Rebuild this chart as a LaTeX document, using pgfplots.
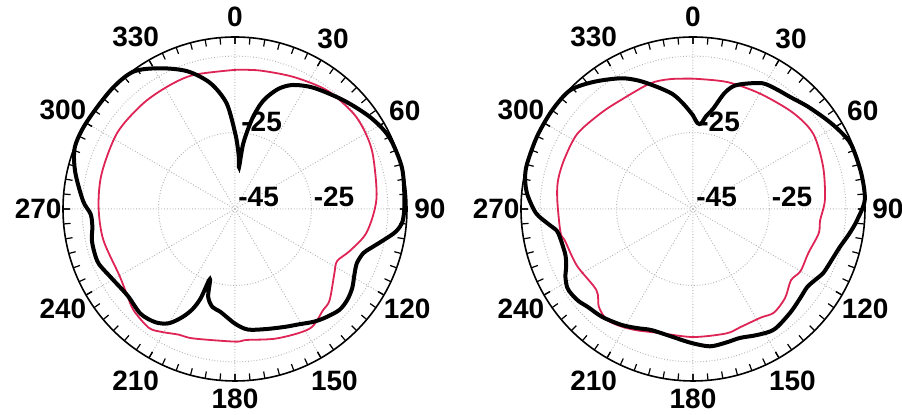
\documentclass[border=0pt]{standalone}
\usepackage{pgfplots}
\pgfplotsset{compat=1.18}
\usepackage{pgfplotstable}
\usepgfplotslibrary{polar}
\usepackage{fontspec}
\setmainfont{Liberation Sans}
\definecolor{pr}{RGB}{222,35,85}

% angle: compass degrees (0 at top, clockwise); db: level in dB
\pgfplotstableread{
ang db
0 -25
1.4 -27
4 -31
5.5 -34
7.2 -27.7
10.6 -21.3
13.5 -17
16 -14.5
20 -11.5
25 -9.2
33 -7.2
45 -4.8
56 -2.2
65 -0.5
76 0
87 -0.6
94 -1
98 -2.5
102 -5.4
106 -8
109 -9.5
114 -10.1
119 -9.3
124 -8
129 -7.2
134 -7
140 -8
145 -9
151 -10.5
157 -11.5
166 -12.6
174 -13.3
180 -15
188 -17.8
193 -18.7
197 -21
199.7 -25.5
201 -20
203 -16.5
206 -13.5
210 -10.5
215 -8.8
222 -8.1
231 -8.9
240 -8.1
248 -6.6
253 -6.5
258 -6.7
263 -7.4
268 -7.2
273 -5.2
283 -2.1
291 -0.1
300 0
314 0
323.5 -0.3
332 -3.3
341 -6.9
349 -11.5
355.5 -17.3
360 -25
}\Lblack

\pgfplotstableread{
ang db
0 -8.6
10 -8.2
24 -7.2
38 -5.7
51 -5.2
60 -5.5
69 -6.3
86 -7.9
100 -10
110 -13
117 -15
123 -14
134 -10.6
139 -9.9
148 -8.1
162 -9.4
175 -10.6
180 -10.3
198 -9.4
204 -9
211 -7.5
216 -6.6
225 -7.5
232 -9
240 -10.1
257 -9.6
271 -9.3
285 -8.9
303 -8.3
319 -8.4
332 -8.4
343 -8.3
360 -8.6
}\Lred

\pgfplotstableread{
ang db
0 -20.5
3 -22.5
5.5 -22.5
8 -20.5
11.4 -18.2
15 -13.8
18 -11.3
22 -9.7
29 -7.4
35 -6.8
41 -6.2
48 -4.8
56 -3
62 -1.5
68 -0.3
78 0
87 0
94 -2
99 -3.6
104.5 -5.3
110 -6.3
116 -7
120 -8
124.4 -8.8
130 -8.5
137 -7.8
146 -7
153 -8
160 -9.1
166 -9
173 -8.8
181 -10
190 -11.2
199 -11.5
205 -10.6
211.5 -9.4
220 -8.1
227 -7.4
231 -6.6
235 -6.2
238 -6.2
242 -7.2
246 -8.7
250 -9.5
254 -9.6
258 -9.4
261 -8.9
264 -7
268.5 -3.9
275 -1.5
280 -0.4
285 0
295 0
305 0
314 -0.3
322 -2.8
331 -5.9
337 -8.5
343.6 -11.7
350 -14.5
355 -17.5
360 -20.5
}\Rblack

\pgfplotstableread{
ang db
0 -10.9
15 -10.6
30 -10.1
46 -8.7
58 -7.9
72 -9.2
86 -10.4
95 -11.6
101 -11.5
111 -12.7
120 -12.5
126 -13.3
134 -11.5
142 -10.6
148 -11.5
158 -11.7
165 -11.3
180 -11.5
195 -11.4
205 -10
212 -8.9
218 -8.3
224 -9.5
230 -12
244 -11.2
256 -10.5
260 -9.8
274 -9.4
282 -8.9
291 -8.9
303 -8.9
316 -10.2
326 -10.8
341 -10.3
350 -10.5
360 -10.9
}\Rred

\pgfplotsset{myp/.style={
  scale only axis, width=172pt, height=172pt,
  anchor=center,
  xmin=0, xmax=360,
  ymin=0, ymax=45,
  xtick={0,30,...,330},
  xticklabels={},
  minor xtick={0,5,...,355},
  xtick align=outside,
  major tick length=3.5pt, minor tick length=3.5pt,
  tick style={black, line width=0.6pt},
  ytick={20,40}, yticklabels={}, ytick style={draw=none},
  separate axis lines,
  y axis line style={draw=none},
  x axis line style={line width=0.8pt},
  xmajorgrids, ymajorgrids,
  major grid style={densely dotted, black!30, line width=0.5pt},
  clip=false,
}}
\newcommand{\rlab}{\fontsize{14}{14}\selectfont\bfseries}
\newcommand{\alab}[2]{\node[font=\rlab, inner sep=0pt, anchor=center] at (axis cs:{90-#1},#2) {#1};}
\newcommand{\anglabels}{%
  \alab{0}{50.2}\alab{30}{51.3}\alab{60}{51.3}\alab{90}{51}%
  \alab{120}{52}\alab{150}{52}\alab{180}{49.6}\alab{210}{52}%
  \alab{240}{52}\alab{270}{51.5}\alab{300}{52}\alab{330}{52}%
  \node[anchor=west, font=\rlab, inner sep=0pt, xshift=1.5pt, yshift=6pt] at (axis cs:0,0) {-45};
  \node[anchor=west, font=\rlab, inner sep=0pt, xshift=1pt, yshift=6pt] at (axis cs:0,20) {-25};
  \node[anchor=west, font=\rlab, inner sep=0pt, xshift=3pt, yshift=5.5pt] at (axis cs:90,20) {-25};
}

\begin{document}
\begin{tikzpicture}
\useasboundingbox (-117.5pt,-103pt) rectangle (333.5pt,104.5pt);
\begin{polaraxis}[myp, at={(0pt,0pt)}]
\addplot[pr, line width=0.9pt, smooth] table[x expr={90-\thisrow{ang}}, y expr={\thisrow{db}+45}] {\Lred};
\addplot[black, line width=2pt, smooth] table[x expr={90-\thisrow{ang}}, y expr={\thisrow{db}+45}] {\Lblack};
\anglabels
\end{polaraxis}
\begin{polaraxis}[myp, at={(229pt,0pt)}]
\addplot[pr, line width=0.9pt, smooth] table[x expr={90-\thisrow{ang}}, y expr={\thisrow{db}+45}] {\Rred};
\addplot[black, line width=2pt, smooth] table[x expr={90-\thisrow{ang}}, y expr={\thisrow{db}+45}] {\Rblack};
\anglabels
\end{polaraxis}
\end{tikzpicture}
\end{document}
